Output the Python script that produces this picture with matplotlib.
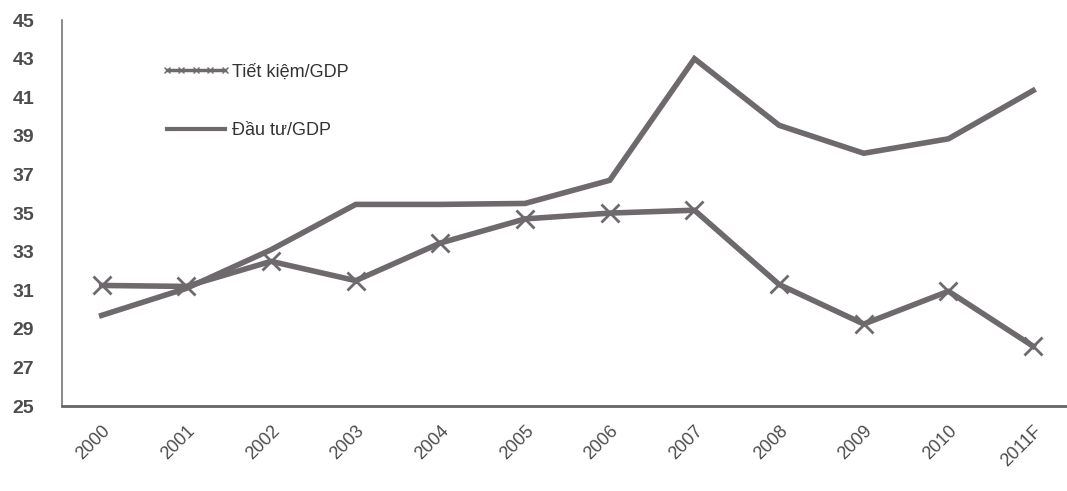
import matplotlib
matplotlib.use("Agg")
import matplotlib.pyplot as plt
import matplotlib.transforms as mtransforms
from matplotlib.lines import Line2D

# ── data ───────────────────────────────────────────────────────────────────────
years = ["2000", "2001", "2002", "2003", "2004", "2005",
         "2006", "2007", "2008", "2009", "2010", "2011F"]
tiet_kiem = [31.25, 31.2, 32.5, 31.5, 33.45, 34.7, 35.0, 35.15, 31.3, 29.25, 30.95, 28.1]
dau_tu = [29.7, 31.1, 33.1, 35.45, 35.45, 35.5, 36.7, 43.0, 39.55, 38.1, 38.85, 41.35]
y_ticks = list(range(25, 46, 2))

LINE_C = "#6d696d"
TEXT_C = "#4d4d4d"

plt.rcParams["font.family"] = ["Liberation Sans", "DejaVu Sans"]

fig = plt.figure(figsize=(10.67, 4.91), dpi=100)
ax = fig.add_axes([0.058, 0.173, 0.942, 0.786])

x = list(range(len(years)))
ax.plot(x, dau_tu, color=LINE_C, linewidth=4.0, solid_joinstyle="miter", zorder=2)
ax.plot(x, tiet_kiem, color=LINE_C, linewidth=4.0, marker="x", markersize=13,
        markeredgewidth=2.0, zorder=3)

ax.set_xlim(-0.47, 11.4)
ax.set_ylim(25, 45)
ax.set_yticks(y_ticks)
ax.set_yticklabels([str(v) for v in y_ticks], fontsize=14, fontweight="bold",
                   color=TEXT_C)
ax.set_xticks(x)
ax.set_xticklabels(years, rotation=45, ha="right", rotation_mode="anchor",
                   fontsize=13, color=TEXT_C)
shift = mtransforms.ScaledTranslation(10 / 100, 0, fig.dpi_scale_trans)
for lbl in ax.get_xticklabels():
    lbl.set_transform(lbl.get_transform() + shift)
ax.tick_params(axis="y", length=0, pad=20)
ax.tick_params(axis="x", length=0, pad=12)

for side in ("top", "right"):
    ax.spines[side].set_visible(False)
ax.spines["left"].set_color("#777777")
ax.spines["left"].set_linewidth(1.2)
ax.spines["bottom"].set_color("#666666")
ax.spines["bottom"].set_linewidth(2.0)

handles = [
    Line2D([0], [0], color=LINE_C, linewidth=2.5, marker="x", markersize=4,
           markeredgewidth=1.0, label="Tiết kiệm/GDP"),
    Line2D([0], [0], color=LINE_C, linewidth=3.0, label="Đầu tư/GDP"),
]
leg = ax.legend(handles=handles, loc="upper left", bbox_to_anchor=(0.083, 0.93),
                frameon=False, fontsize=13, handlelength=3.8, handletextpad=0.1,
                labelspacing=2.3, numpoints=5)
for t in leg.get_texts():
    t.set_color("#333333")

fig.savefig("out.png", dpi=100, facecolor="white")
